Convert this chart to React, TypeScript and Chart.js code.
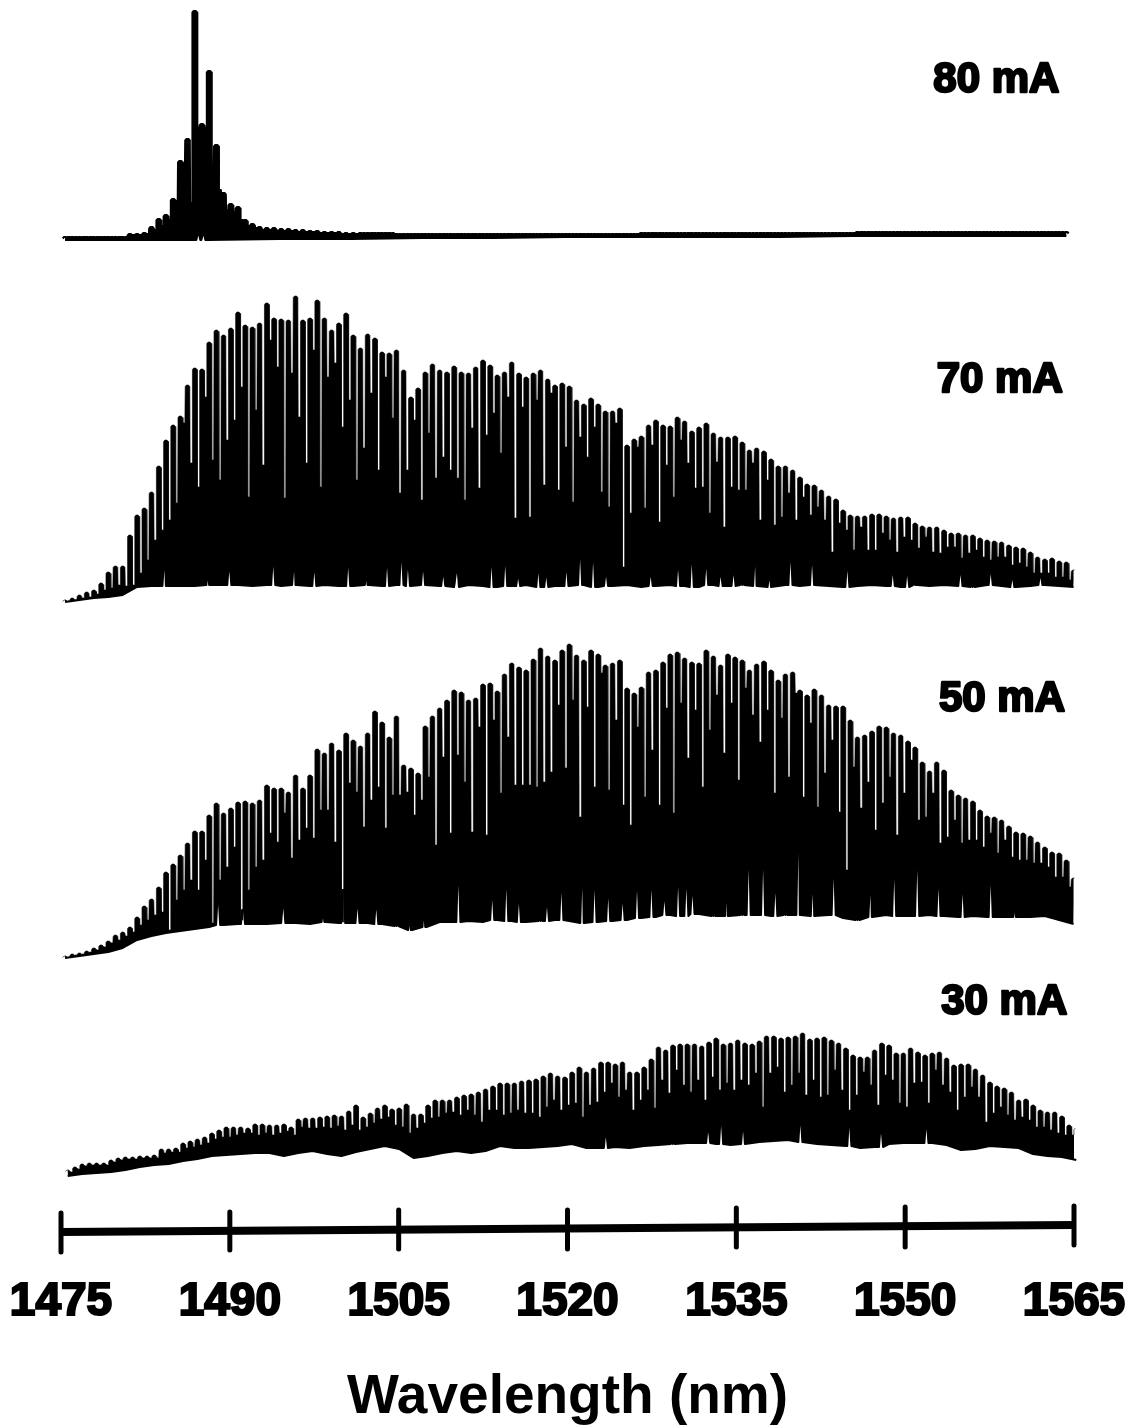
import React, { useEffect, useRef } from "react";
import { Chart, registerables } from "chart.js";

Chart.register(...registerables);

const tickValues = [1475, 1490, 1505, 1520, 1535, 1550, 1565];
const tickLow = [8, 10, 11, 11, 13, 13, 15];
const tickHigh = [47, 48, 50, 50, 52, 53, 54];
const axisTrend = [28, 35];

const labelNames = ["80 mA", "70 mA", "50 mA", "30 mA"];
const labelNm = [1558.1, 1558.4, 1558.6, 1558.8];
const labelLevel = [1180, 880, 561, 258];

const fringeSpacing = 0.64;

const peaks80 = [
  3,3,3,3,3,3,3,3,3,6,
  6,7,13,21,25,41,79,101,229,116,
  169,95,47,36,33,20,16,13,12,12,
  11,11,10,10,9,9,8,8,8,7,
  7,7,7,7,7,7,6,6,6,6,
  6,6,6,6,6,6,6,6,6,6,6,6,6,6,6,6,6,6,6,6,6,6,6,6,6,6,6,6,6,6,
  7,7,7,7,7,7,7,7,7,7,7,7,7,7,7,7,7,7,7,7,7,7,7,7,7,7,7,7,7,7,
  8,8,8,8,8,8,8,8,8,8,8,8,8,8,8,8,8,8,8,8,8,8,8,8,8,8,8,8,8,8,
];
const dips80 = [
  3,3,3,3,3,3,3,3,3,5,
  5,6,10,14,20,34,72,37,112,112,
  67,50,30,28,20,14,12,10,10,9,
  9,9,8,8,8,7,7,7,6,6,6,
];
const floors80 = [0,0,0,1,1,2,2,3,3,3,3,4,4,4,4];
const rises80 = [[18.5,5],[19.2,5]];

const peaks70 = [
  0,2,5,8,10,17,28,34,34,65,
  85,92,108,134,160,175,184,215,232,231,
  258,270,265,272,288,275,273,277,297,282,
  281,280,304,280,282,300,282,270,277,287,
  265,252,266,262,248,247,250,230,203,212,
  228,236,230,228,234,228,227,233,240,235,
  225,228,238,227,223,227,230,221,215,217,
  214,200,196,202,196,189,189,192,155,161,
  164,175,180,175,174,183,179,169,173,177,
  167,163,163,164,158,150,152,149,141,134,
  134,130,123,116,115,110,104,101,90,85,
  84,84,86,86,84,82,83,83,77,74,
  73,73,70,67,67,65,65,62,60,59,
  58,55,53,52,48,43,41,42,39,38,
  30,
];
const dips70 = [
  -1,0,2,3,6,10,12,15,14,15,
  27,40,60,70,80,97,177,137,113,203,
  140,120,160,180,213,103,190,135,260,233,
  102,227,183,137,250,113,223,237,173,200,
  120,152,207,130,223,182,107,130,180,100,
  167,122,143,130,122,100,172,112,165,187,
  147,203,82,193,83,200,115,207,110,153,
  98,163,143,173,108,93,177,33,87,153,
  92,155,78,135,103,160,137,112,113,87,
  138,73,113,110,110,137,80,120,75,83,
  107,80,103,85,93,80,48,77,70,50,
  73,50,50,67,60,48,63,60,52,63,
  48,47,53,53,42,47,50,43,40,43,
  43,35,37,33,27,27,27,23,23,20,
];
const floors70 = [
  -2,0,2,3,5,13,14,14,14,14,15,15,15,14,15,14,15,14,15,14,
  14,15,14,15,14,15,14,13,15,14,13,14,15,13,14,14,15,13,14,15,
  13,14,15,14,13,15,14,15,14,13,15,14,15,14,13,14,15,14,13,15,
  14,15,14,13,15,14,13,14,15,14,13,
];
const rises70 = [
  [13.8,18],[19.9,18],[22.8,15],[28.9,20],[31.8,15],[34.6,15],[39.3,20],[41.9,15],[44.7,20],[46.7,25],[47.6,18],
  [49.7,15],[52.5,10],[54.4,15],[59.2,22],[61.1,22],[62.9,8],[65.7,15],[66.8,10],[69.6,15],[71.5,28],[73.3,27],[75.1,10],
  [81.3,10],[85.1,18],[87,25],[89,18],[91,10],[92.8,12],[94,22],[95.8,22],
  [97.8,8],[100.7,25],[103.7,22],[108.6,18],[114.9,12],[116.9,12],[118,18],[124.3,12],[126,12],[128.5,12],[131.5,8],[135.4,8],
];

const peaks50 = [
  4,6,7,9,12,15,19,25,28,33,
  43,54,61,73,88,96,105,117,129,129,
  145,157,147,152,158,159,157,160,175,172,
  172,168,185,172,185,211,207,217,210,227,
  220,214,227,249,238,223,244,195,192,187,
  234,244,252,260,270,268,260,262,276,277,
  269,286,297,293,290,301,312,304,300,310,
  316,305,300,310,306,295,297,300,272,267,
  273,288,290,298,306,308,302,298,297,310,
  304,295,306,303,300,290,296,299,290,280,
  286,288,270,265,271,265,255,254,254,240,
  223,225,229,234,233,227,225,219,213,198,
  189,198,190,170,165,162,159,150,144,143,
  140,134,128,127,124,118,113,108,107,100,
  82,
];
const dips50 = [
  3,5,6,8,10,13,17,20,24,28,
  35,40,45,48,30,60,70,80,70,100,
  37,80,93,113,40,70,93,100,127,118,
  147,102,120,132,122,150,150,118,38,177,
  168,133,160,173,132,165,165,168,145,160,
  183,115,203,127,205,178,128,233,125,240,
  167,223,175,175,175,173,178,188,255,192,
  260,143,253,173,287,170,240,155,135,233,
  163,210,155,252,147,257,202,250,173,230,
  265,207,257,180,272,245,218,250,167,242,
  183,267,163,237,153,187,220,148,90,193,
  152,178,130,157,183,125,167,200,140,143,
  167,117,123,140,117,120,120,113,127,107,
  120,103,100,100,97,97,93,83,83,73,
];
const floors50 = [
  2,4,6,8,12,20,24,27,29,31,33,35,36,36,36,37,37,36,38,37,
  37,37,36,34,30,33,38,38,39,38,40,39,38,39,40,39,37,38,39,40,
  42,43,45,44,46,44,44,45,45,44,45,45,44,45,42,40,43,45,44,44,
  45,44,43,44,43,43,43,43,44,40,36,
];
const rises50 = [
  [21.25,22],[24.7,14],[30.3,16],[35.9,14],[38.6,33],[40.6,16],[43.2,16],[46,22],[47.9,15],[49.9,25],
  [54.6,40],[59.3,22],[61.25,35],[63,20],[66,15],[66.9,15],[68.9,30],[71.8,40],[73.5,35],[75.4,25],
  [77.4,18],[79.4,30],[81.4,30],[83.2,15],[85.1,32],[86.25,30],[87.1,20],[90,40],[91.9,50],[94,15],
  [94.9,50],[96.9,50],[98.6,25],[100,35],[101.8,70],[103.8,25],[106.7,40],[110,30],[111.8,25],[115.1,40],
  [118.3,50],[121.25,30],[124.6,25],[128.5,35],[131.9,15],
];

const peaks30 = [
  5,8,11,12,12,12,15,17,18,18,
  19,19,20,26,26,27,32,34,36,38,
  42,45,48,48,48,47,51,51,50,50,
  51,48,56,57,57,58,59,60,59,64,
  70,58,62,67,70,66,67,71,61,61,
  70,75,75,75,78,80,81,83,86,89,
  92,92,92,94,95,96,99,102,99,98,
  103,108,103,107,113,113,111,113,103,103,
  108,116,128,125,130,131,131,131,129,133,
  137,131,132,135,132,131,134,139,139,137,
  138,139,142,136,137,138,135,132,127,120,
  118,118,125,132,130,122,122,127,123,120,
  122,123,117,110,111,111,106,100,93,89,
  87,83,75,76,70,65,63,63,59,50,
  47,
];
const dips30 = [
  3,6,9,10,10,10,13,15,16,16,
  17,17,17,22,23,23,27,28,30,32,
  36,38,38,40,42,42,40,42,40,42,
  44,40,48,47,47,48,47,49,45,50,
  45,48,52,56,58,50,48,42,47,52,
  57,58,62,63,60,65,60,53,65,65,
  60,62,65,62,62,58,68,75,65,70,
  72,58,70,73,83,92,78,85,65,75,
  85,67,95,82,105,90,83,95,75,98,
  85,92,85,95,90,102,68,102,108,83,
  90,102,80,95,78,80,105,85,65,80,
  103,90,70,100,95,72,68,92,93,72,
  105,90,83,65,78,88,78,53,62,68,
  60,55,58,55,48,48,45,42,40,40,
];
const floors30 = [
  -1,1,2,3,5,8,10,11,14,16,19,20,21,22,22,19,22,24,21,19,
  23,26,29,26,17,19,22,24,22,24,29,27,27,28,29,31,27,27,28,27,
  29,30,31,32,32,31,30,31,33,34,35,33,31,30,29,27,28,31,32,32,
  32,30,25,26,29,28,27,21,19,18,15,
];
const rises30 = [
  [74.7,12],[84,12],[88.9,12],[90.7,20],[93.75,14],[101.7,18],[108.5,20],[112.9,15],[119.2,15],
];

const traces = [
  { offset: 1020, start: 1475.36, peaks: peaks80, dips: dips80, floors: floors80, rises: rises80, lineWidth: 2 },
  { offset: 660, start: 1475.36, peaks: peaks70, dips: dips70, floors: floors70, rises: rises70, lineWidth: 0.6 },
  { offset: 300, start: 1475.36, peaks: peaks50, dips: dips50, floors: floors50, rises: rises50, lineWidth: 0.6 },
  { offset: 85, start: 1475.6, peaks: peaks30, dips: dips30, floors: floors30, rises: rises30, lineWidth: 0.6 },
];

function buildTrace(t: (typeof traces)[number]) {
  const pts: { x: number; y: number }[] = [];
  const n = t.peaks.length;
  t.peaks.forEach((p: number, i: number) => {
    const x = t.start + i * fringeSpacing;
    pts.push({ x: x - 0.205, y: t.offset + p - 1.5 });
    pts.push({ x: x - 0.09, y: t.offset + p });
    pts.push({ x: x + 0.09, y: t.offset + p });
    pts.push({ x: x + 0.205, y: t.offset + p - 1.5 });
    if (i < n - 1) {
      const d = t.dips[i] ?? p;
      const mid = x + fringeSpacing / 2;
      pts.push({ x: mid - 0.085, y: t.offset + d });
      pts.push({ x: mid + 0.085, y: t.offset + d });
    }
  });
  return pts;
}

function buildFloor(t: (typeof traces)[number]) {
  const span = (t.peaks.length - 1) / (t.floors.length - 1);
  const pts = t.floors.map((f: number, k: number) => ({
    x: t.start + k * span * fringeSpacing,
    y: t.offset + f,
  }));
  for (const [pos, h] of t.rises) {
    const level = t.floors[Math.round(pos / span)] ?? 0;
    const x = t.start + pos * fringeSpacing;
    pts.push({ x: x - 0.18, y: t.offset + level });
    pts.push({ x: x - 0.08, y: t.offset + level + h });
    pts.push({ x: x + 0.08, y: t.offset + level + h });
    pts.push({ x: x + 0.18, y: t.offset + level });
  }
  return pts.sort((a, b) => a.x - b.x);
}

const labelPlugin = {
  id: "seriesLabels",
  afterDatasetsDraw(chart: any) {
    const { ctx, scales } = chart;
    ctx.save();
    ctx.fillStyle = "#000";
    ctx.strokeStyle = "#000";
    ctx.lineWidth = 2.4;
    ctx.lineJoin = "round";
    ctx.font = 'bold 42px "Liberation Sans"';
    ctx.textAlign = "center";
    ctx.textBaseline = "middle";
    labelNames.forEach((name, i) => {
      const x = scales.x.getPixelForValue(labelNm[i]);
      const y = scales.y.getPixelForValue(labelLevel[i]);
      ctx.fillText(name, x, y);
      ctx.strokeText(name, x, y);
    });
    ctx.restore();
  },
};

export default function App() {
  const ref = useRef<HTMLCanvasElement | null>(null);
  useEffect(() => {
    if (!ref.current) return;
    const datasets: any[] = [];
    traces.forEach((t) => {
      const floorIndex = datasets.length + 1;
      datasets.push({
        label: "trace",
        data: buildTrace(t),
        borderColor: "#000",
        backgroundColor: "#000",
        borderWidth: t.lineWidth,
        borderJoinStyle: "round",
        pointRadius: 0,
        tension: 0,
        clip: false,
        fill: { target: floorIndex },
      });
      datasets.push({
        label: "floor",
        data: buildFloor(t),
        borderColor: "#000",
        backgroundColor: "#000",
        borderWidth: 2,
        borderJoinStyle: "round",
        pointRadius: 0,
        tension: 0,
        clip: false,
        fill: false,
      });
    });
    datasets.push({
      label: "axis",
      data: [
        { x: tickValues[0], y: axisTrend[0] },
        { x: tickValues[tickValues.length - 1], y: axisTrend[1] },
      ],
      borderColor: "#000",
      borderWidth: 8,
      pointRadius: 0,
      clip: false,
      fill: false,
    });
    const tickData: { x: number; y: number }[] = [];
    tickValues.forEach((v, i) => {
      tickData.push({ x: v, y: tickLow[i] }, { x: v, y: tickHigh[i] }, { x: v, y: NaN });
    });
    datasets.push({
      label: "ticks",
      data: tickData,
      borderColor: "#000",
      borderWidth: 5,
      borderCapStyle: "round",
      pointRadius: 0,
      spanGaps: false,
      clip: false,
      fill: false,
    });

    const chart = new Chart(ref.current, {
      type: "line",
      data: { datasets },
      plugins: [labelPlugin],
      options: {
        animation: false,
        responsive: false,
        layout: { padding: { left: 61, right: 64, top: 0, bottom: 0 } },
        plugins: {
          legend: { display: false },
          tooltip: { enabled: false },
          title: { display: false },
        },
        scales: {
          x: {
            type: "linear",
            min: 1475,
            max: 1565,
            afterBuildTicks: (scale: any) => {
              scale.ticks = tickValues.map((value) => ({ value }));
            },
            afterFit: (scale: any) => {
              scale.paddingLeft = 0;
              scale.paddingRight = 0;
              scale.height = 168;
            },
            grid: { display: false, drawTicks: false },
            border: { display: false },
            ticks: {
              color: "#000",
              font: { family: '"Liberation Sans"', size: 46, weight: "bold" },
              textStrokeColor: "#000",
              textStrokeWidth: 2.2,
              padding: 15,
              maxRotation: 0,
              autoSkip: false,
              callback: (v: any) => String(v),
            },
            title: {
              display: true,
              text: "Wavelength (nm)",
              color: "#000",
              font: { family: '"Liberation Sans"', size: 55, weight: "bold" },
              padding: { top: 20, bottom: -3 },
            },
          },
          y: { display: false, min: 0, max: 1260 },
        },
      } as any,
    });
    return () => chart.destroy();
  }, []);
  return (
    <div style={{ position: "absolute", left: 0, top: 0, width: 1138, height: 1428, background: "#fff" }}>
      <canvas ref={ref} width={1138} height={1428} style={{ display: "block" }} />
    </div>
  );
}
